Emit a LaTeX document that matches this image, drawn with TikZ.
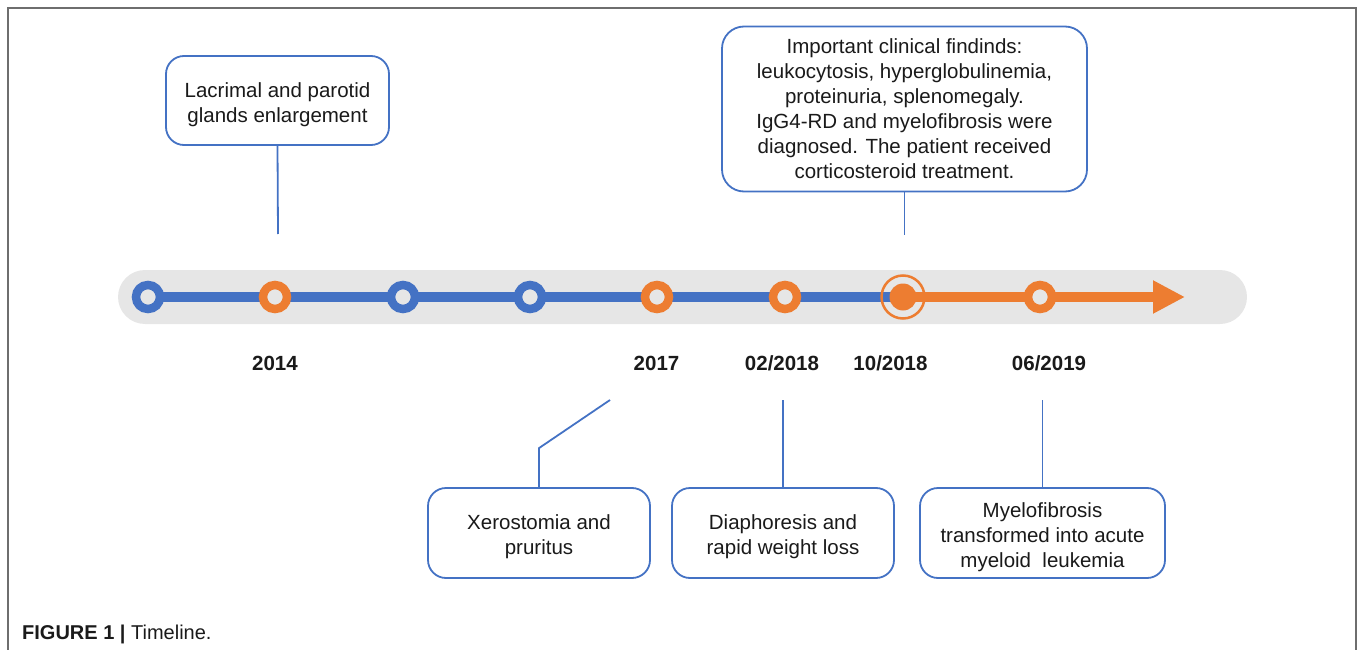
\documentclass[tikz,border=0pt]{standalone}
\usepackage{fontspec}
\setmainfont{Liberation Sans}
\usetikzlibrary{backgrounds,arrows.meta}
\definecolor{tlblue}{HTML}{4472C4}
\definecolor{tlorange}{HTML}{ED7D31}
\definecolor{bargray}{HTML}{E6E6E6}
\definecolor{framegray}{HTML}{6E6E6E}
\definecolor{txt}{HTML}{1A1A1A}
\newcommand\boxtopstrut{\rule{0pt}{23pt}}
\tikzset{
  box/.style={draw=tlblue, line width=1.8pt, rounded corners=18pt, fill=white, align=center, inner sep=0pt, text=txt, font=\fontsize{20.5}{25}\selectfont},
  conn/.style={draw=tlblue, line width=1.8pt},
  ring/.style={circle, draw=#1, line width=8.5pt, minimum size=24pt, inner sep=0pt, fill=bargray},
  year/.style={font=\bfseries\fontsize{20.5}{25}\selectfont, text=txt},
}
\begin{document}
\begin{tikzpicture}[x=1pt,y=-1pt]
\useasboundingbox (0,0) rectangle (1360,650);
% frame
\draw[framegray, line width=2pt] (8,650) -- (8,8) -- (1355.5,8) -- (1355.5,650);
% timeline markers
\node[ring=tlblue] (c1) at (148,297) {};
\node[ring=tlorange] (c2) at (275,297) {};
\node[ring=tlblue] (c3) at (403,297) {};
\node[ring=tlblue] (c4) at (530,297) {};
\node[ring=tlorange] (c5) at (657,297) {};
\node[ring=tlorange] (c6) at (785,297) {};
\node[circle, fill=tlorange, minimum size=27pt, inner sep=0pt] (c7) at (903,297) {};
\node[circle, draw=tlorange, line width=2.5pt, minimum size=43pt, inner sep=0pt] (c7ring) at (903,297) {};
\node[ring=tlorange] (c8) at (1040,297) {};
\coordinate (tip) at (1185,297);
\begin{pgfonlayer}{background}
  \fill[bargray, rounded corners=27pt] (118,270) rectangle (1247,324);
  \draw[tlblue, line width=10pt] (c1.center) -- (c7.center);
  \draw[tlorange, line width=10pt, -{Triangle[length=32pt,width=31pt]}] (c7.center) -- (tip);
\end{pgfonlayer}
% years
\node[year] (y1) at (275,363) {2014};
\node[year] (y2) at (656.5,363) {2017};
\node[year] (y3) at (782,363) {02/2018};
\node[year] (y4) at (890.5,363) {10/2018};
\node[year] (y5) at (1049,363) {06/2019};
% boxes
\node[box, minimum width=223pt, minimum height=89pt] (b1) at (277.5,100.5) {\boxtopstrut Lacrimal and parotid\\glands enlargement};
\node[box, minimum width=365pt, minimum height=165pt, rounded corners=22pt] (b2) at (904.5,109) {Important clinical findinds:\\leukocytosis, hyperglobulinemia,\\proteinuria, splenomegaly.\\IgG4-RD and myelofibrosis were\\diagnosed. The patient received\\corticosteroid treatment.};
\node[box, minimum width=222pt, minimum height=90pt] (b3) at (539,533) {\boxtopstrut Xerostomia and\\pruritus};
\node[box, minimum width=222pt, minimum height=90pt] (b4) at (783,533) {\boxtopstrut Diaphoresis and\\rapid weight loss};
\node[box, minimum width=245pt, minimum height=90pt] (b5) at (1042.5,533) {\boxtopstrut Myelofibrosis\\transformed into acute\\myeloid\ \ leukemia};
% connectors
\coordinate (e1) at (278,234);
\coordinate (e2) at (904.5,235);
\coordinate (e3) at (610,400);
\coordinate (e4) at (783,400);
\coordinate (e5) at (1042.5,400);
\draw[conn] (b1.south) -- (e1);
\draw[conn] (b2.south) -- (e2);
\draw[conn] (b3.north) -- ++(0,-39) -- (e3);
\draw[conn] (b4.north) -- (e4);
\draw[conn] (b5.north) -- (e5);
% caption
\node[anchor=west, inner sep=0pt, font=\fontsize{20}{24}\selectfont, text=txt] (cap) at (22,634) {\textbf{FIGURE 1 |} Timeline.};
\end{tikzpicture}
\end{document}
